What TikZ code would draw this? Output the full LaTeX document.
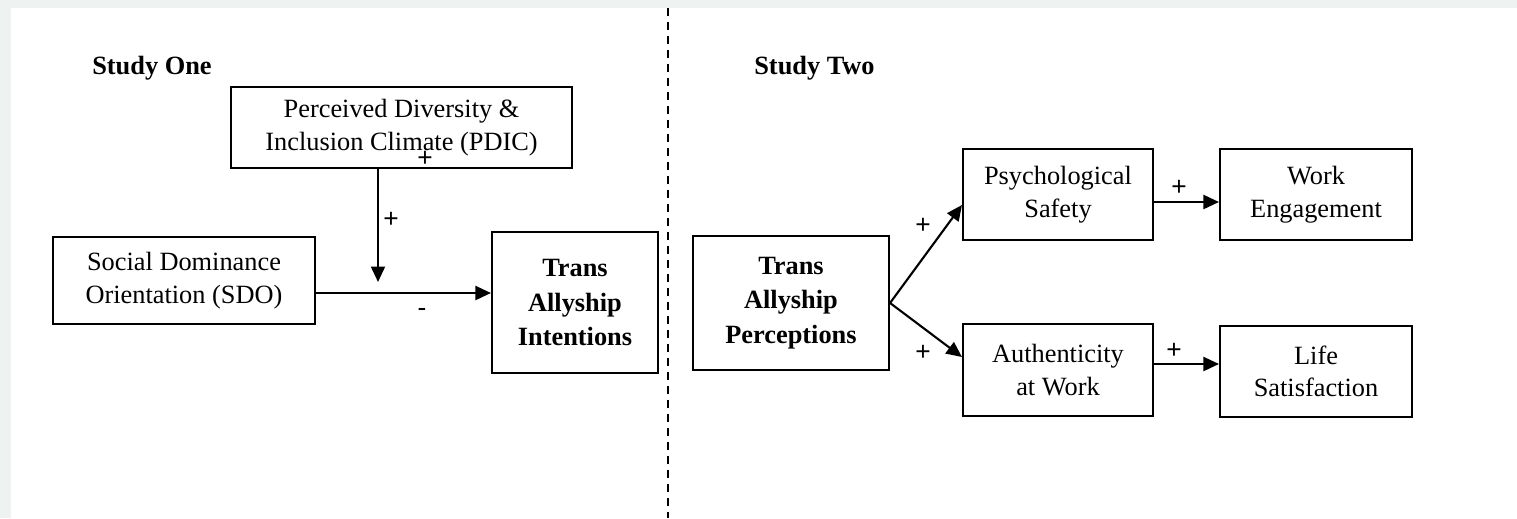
\documentclass[tikz,border=0pt]{standalone}
\usepackage{fontspec}
\setmainfont{Liberation Serif}
\setsansfont{Liberation Sans}
\usetikzlibrary{arrows.meta}
\definecolor{bggray}{HTML}{EEF2F1}
\tikzset{
  box/.style={draw, line width=1.2pt, align=center, inner sep=0pt, font=\fontsize{15}{18.5}\selectfont},
  boldbox/.style={box, font=\fontsize{15}{19.5}\selectfont\bfseries},
  arr/.style={line width=1.2pt, -{Triangle[length=0.31cm,width=0.28cm]}},
  sign/.style={font=\sffamily\fontsize{15}{15}\selectfont, inner sep=0pt},
  heading/.style={font=\fontsize{15}{18}\selectfont\bfseries, inner sep=0pt},
  divider/.style={line width=1.2pt, dash pattern=on 0.16cm off 0.12cm},
}
\begin{document}
\begin{tikzpicture}[x=0.02cm,y=-0.02cm]
\fill[bggray] (0,0) rectangle (1517,518);
\fill[white] (11,8) rectangle (1517,518);
\useasboundingbox (0,0) rectangle (1517,518);

% headings
\node[heading] (h1) at (152,68) {Study One};
\node[heading] (h2) at (814.5,68) {Study Two};

% divider
\coordinate (dtop) at (668,8);
\coordinate (dbot) at (668,518);
\draw[divider] (dtop) -- (dbot);

% Study One
\node[box, minimum width=6.82cm, minimum height=1.62cm] (pdic) at (401.5,127.5) {Perceived Diversity \&\\Inclusion Climate (PDIC)};
\node[box, minimum width=5.24cm, minimum height=1.74cm] (sdo) at (184,280.5) {Social Dominance\\Orientation (SDO)};
\node[boldbox, minimum width=3.32cm, minimum height=2.82cm] (tai) at (575,302.5) {Trans\\Allyship\\Intentions};

\coordinate (m) at (378,293);
\draw[arr, shorten >=0.22cm] (pdic.south -| m) -- (m);
\draw[arr] (sdo.east |- m) -- (tai.west |- m);

\node[sign] (p0) at (425,159) {+};
\node[sign] (p1) at (391,220) {+};
\node[sign] (n1) at (422,312) {-};

% Study Two
\node[boldbox, minimum width=3.92cm, minimum height=2.68cm] (tap) at (791,303) {Trans\\Allyship\\Perceptions};
\node[box, minimum width=3.8cm, minimum height=1.82cm] (ps) at (1058,194.5) {Psychological\\Safety};
\node[box, minimum width=3.84cm, minimum height=1.82cm] (we) at (1316,194.5) {Work\\Engagement};
\node[box, minimum width=3.8cm, minimum height=1.84cm] (aw) at (1058,370) {Authenticity\\at Work};
\node[box, minimum width=3.84cm, minimum height=1.82cm] (ls) at (1316,371.5) {Life\\Satisfaction};

\draw[arr] (tap.east) -- ([yshift=-0.21cm]ps.west);
\draw[arr] (tap.east) -- ([yshift=0.26cm]aw.west);
\draw[arr] ([yshift=-0.15cm]ps.east) coordinate (a0) -- (a0 -| we.west);
\draw[arr] ([yshift=0.12cm]aw.east) coordinate (a1) -- (a1 -| ls.west);

\node[sign] (p2) at (923,226) {+};
\node[sign] (p3) at (923,353) {+};
\node[sign] (p4) at (1179,188) {+};
\node[sign] (p5) at (1174,351) {+};
\end{tikzpicture}
\end{document}
